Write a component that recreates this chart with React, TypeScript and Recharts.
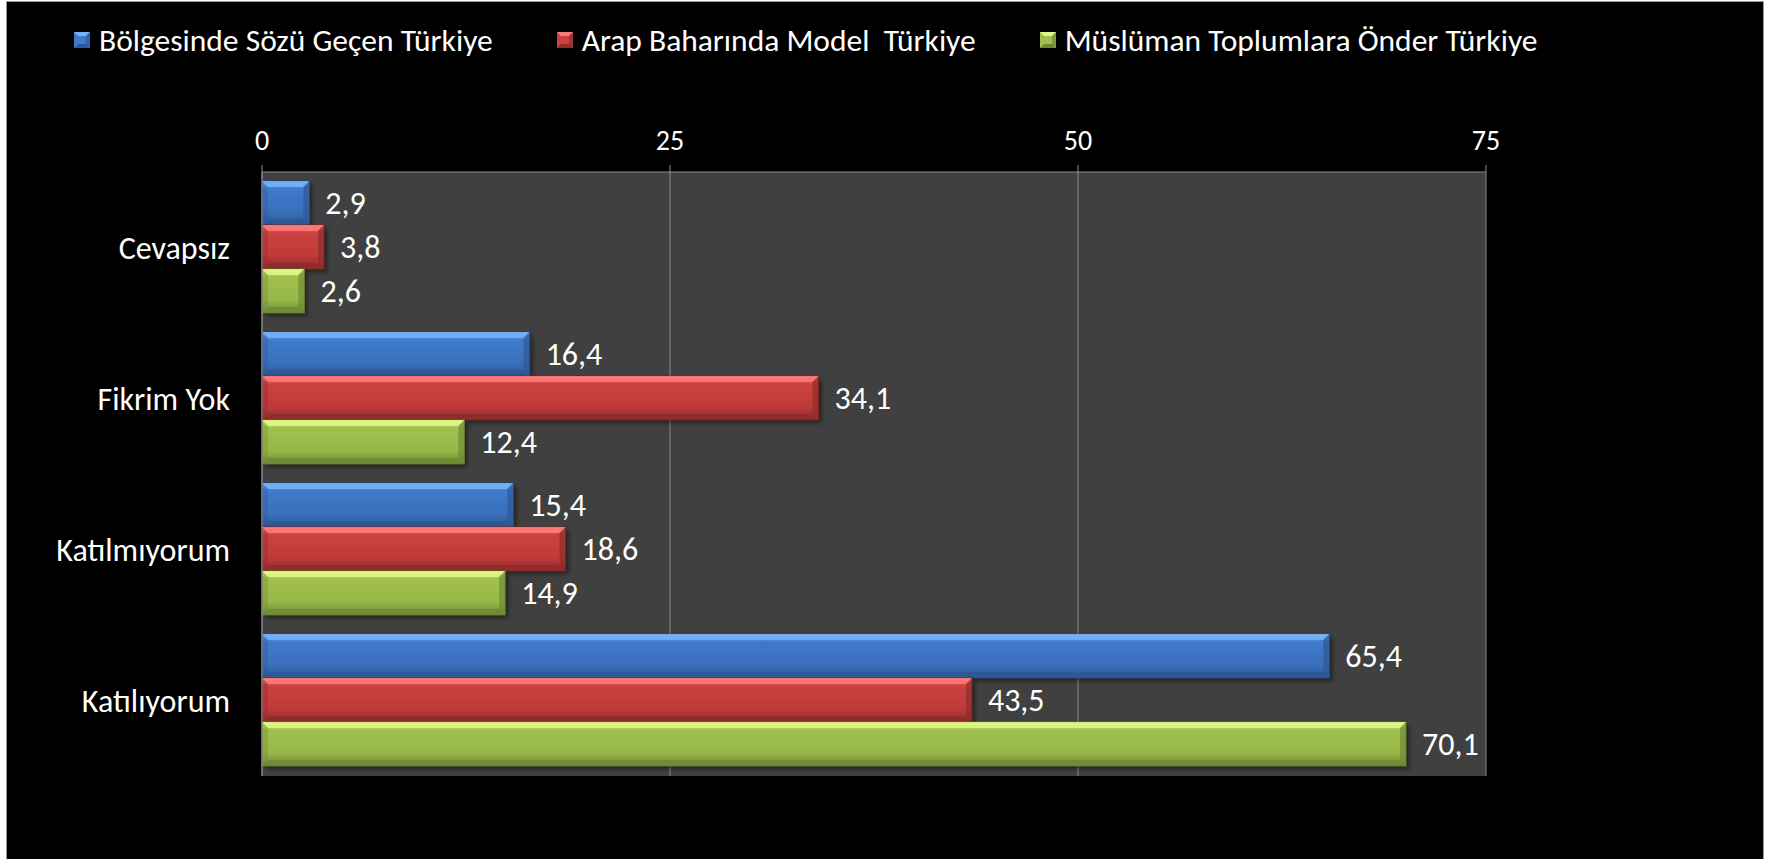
import React from "react";
import {
  BarChart,
  Bar,
  XAxis,
  YAxis,
  CartesianGrid,
  LabelList,
} from "recharts";

const categories = ["Cevapsız", "Fikrim Yok", "Katılmıyorum", "Katılıyorum"];
const bolgesindeSozuGecen = [2.9, 16.4, 15.4, 65.4];
const arapBaharindaModel = [3.8, 34.1, 18.6, 43.5];
const muslumanToplumlaraOnder = [2.6, 12.4, 14.9, 70.1];
const seriesNames = [
  "Bölgesinde Sözü Geçen Türkiye",
  "Arap Baharında Model  Türkiye",
  "Müslüman Toplumlara Önder Türkiye",
];
const xTicks = [0, 25, 50, 75];
const edgeTicks = [0, 1, 2, 3, 4];

const data = categories.map((name, i) => ({
  name,
  bolgesinde: bolgesindeSozuGecen[i],
  arap: arapBaharindaModel[i],
  musluman: muslumanToplumlaraOnder[i],
}));

const FONT = "Calibri, Carlito, Lato, sans-serif";

type Tone = { light: string; main: string; mid: string; dark: string; edge: string };
const tones: Record<string, Tone> = {
  blue: { light: "#74b3f7", main: "#3f7acb", mid: "#3a70bb", dark: "#2d5894", edge: "#234a80" },
  red: { light: "#ff7a7a", main: "#cb4140", mid: "#c03a3a", dark: "#8f2c2c", edge: "#762323" },
  green: { light: "#dff883", main: "#a0c04f", mid: "#97b748", dark: "#6f8a35", edge: "#5c742b" },
};

// bar with a glossy bevel, roughly like the office 3d bar style
const GlassBar = (props: any) => {
  const { x, y, width, height, tone } = props;
  if (!width || width <= 0) return null;
  const t = tones[tone];
  const b = Math.min(6, width / 2);
  const r = x + width;
  const bt = y + height;
  return (
    <g>
      <rect x={x + 3} y={y + 3} width={width} height={height} fill="#000" opacity={0.45} filter="url(#barBlur)" />
      <rect x={x} y={y} width={width} height={height} fill={`url(#grad-${tone})`} stroke={t.edge} strokeWidth={1} />
      <polygon points={`${x},${y} ${r},${y} ${r - b},${y + b} ${x + b},${y + b}`} fill={t.light} opacity={0.85} />
      <polygon points={`${r},${y} ${r},${bt} ${r - b},${bt - b} ${r - b},${y + b}`} fill={t.dark} opacity={0.7} />
      <polygon points={`${x},${bt} ${r},${bt} ${r - b},${bt - b} ${x + b},${bt - b}`} fill={t.dark} opacity={0.8} />
      <polygon points={`${x},${y} ${x + b},${y + b} ${x + b},${bt - b} ${x},${bt}`} fill={t.dark} opacity={0.35} />
    </g>
  );
};

const LegendIcon = ({ tone }: { tone: string }) => {
  const t = tones[tone];
  return (
    <svg width={16} height={16} style={{ display: "block" }}>
      <rect x={0} y={0} width={16} height={16} fill={t.main} />
      <polygon points="0,0 16,0 12,4 4,4" fill={t.light} />
      <polygon points="0,16 16,16 12,12 4,12" fill={t.dark} />
      <polygon points="16,0 16,16 12,12 12,4" fill={t.dark} opacity={0.7} />
    </svg>
  );
};

const legendTones = ["blue", "red", "green"];

const fmt = (v: any) => String(v).replace(".", ",");

export default function App() {
  return (
    <div
      style={{
        position: "absolute",
        left: 6,
        top: 1,
        width: 1756,
        height: 857,
        background: "#000",
        borderTop: "1px solid #9a9a9a",
        borderLeft: "1px solid #9a9a9a",
        borderRight: "1px solid #9a9a9a",
        fontFamily: FONT,
      }}
    >
      <div
        style={{
          position: "absolute",
          left: 67,
          top: 20,
          display: "flex",
          alignItems: "center",
          color: "#fff",
          fontSize: 31.5,
          lineHeight: "36px",
          whiteSpace: "pre",
        }}
      >
        {seriesNames.map((n, i) => (
          <div key={n} style={{ display: "flex", alignItems: "center", marginRight: 64 }}>
            <LegendIcon tone={legendTones[i]} />
            <span style={{ marginLeft: 9 }}>{n}</span>
          </div>
        ))}
      </div>
      <BarChart
        width={1756}
        height={857}
        data={data}
        layout="vertical"
        margin={{ top: 100, right: 277, bottom: 83, left: 0 }}
        barCategoryGap={9}
        barGap={0}
      >
        <defs>
          {Object.entries(tones).map(([k, t]) => (
            <linearGradient key={k} id={`grad-${k}`} x1="0" y1="0" x2="0" y2="1">
              <stop offset="0%" stopColor={t.light} />
              <stop offset="18%" stopColor={t.main} />
              <stop offset="70%" stopColor={t.mid} />
              <stop offset="100%" stopColor={t.dark} />
            </linearGradient>
          ))}
          <filter id="barBlur" x="-10%" y="-30%" width="120%" height="160%">
            <feGaussianBlur stdDeviation="2" />
          </filter>
        </defs>
        <CartesianGrid
          horizontal={false}
          vertical
          fill="#404040"
          stroke="#8c8c8c"
          strokeWidth={1}
        />
        <XAxis
          type="number"
          orientation="top"
          domain={[0, 75]}
          ticks={xTicks}
          height={70}
          axisLine={{ stroke: "#8c8c8c" }}
          tickLine={{ stroke: "#8c8c8c" }}
          tickSize={7}
          tickMargin={15}
          tick={{ fill: "#fff", fontSize: 28, fontFamily: FONT }}
          interval={0}
        />
        <YAxis
          type="category"
          dataKey="name"
          width={255}
          axisLine={{ stroke: "#8c8c8c" }}
          tickLine={false}
          tickSize={8}
          tickMargin={24}
          tick={{ fill: "#fff", fontSize: 32, fontFamily: FONT }}
        />
        {/* hidden numeric axis, only for the tick marks between categories */}
        <YAxis
          yAxisId="edges"
          type="number"
          domain={[0, 4]}
          ticks={edgeTicks}
          width={0}
          axisLine={false}
          tick={false}
          tickLine={{ stroke: "#8c8c8c" }}
          tickSize={9}
        />
        <Bar
          dataKey="bolgesinde"
          name={seriesNames[0]}
          isAnimationActive={false}
          shape={(p: any) => <GlassBar {...p} tone="blue" />}
        >
          <LabelList dataKey="bolgesinde" position="right" offset={16} formatter={fmt} fill="#fff" fontSize={32} fontFamily={FONT} />
        </Bar>
        <Bar
          dataKey="arap"
          name={seriesNames[1]}
          isAnimationActive={false}
          shape={(p: any) => <GlassBar {...p} tone="red" />}
        >
          <LabelList dataKey="arap" position="right" offset={16} formatter={fmt} fill="#fff" fontSize={32} fontFamily={FONT} />
        </Bar>
        <Bar
          dataKey="musluman"
          name={seriesNames[2]}
          isAnimationActive={false}
          shape={(p: any) => <GlassBar {...p} tone="green" />}
        >
          <LabelList dataKey="musluman" position="right" offset={16} formatter={fmt} fill="#fff" fontSize={32} fontFamily={FONT} />
        </Bar>
      </BarChart>
    </div>
  );
}
